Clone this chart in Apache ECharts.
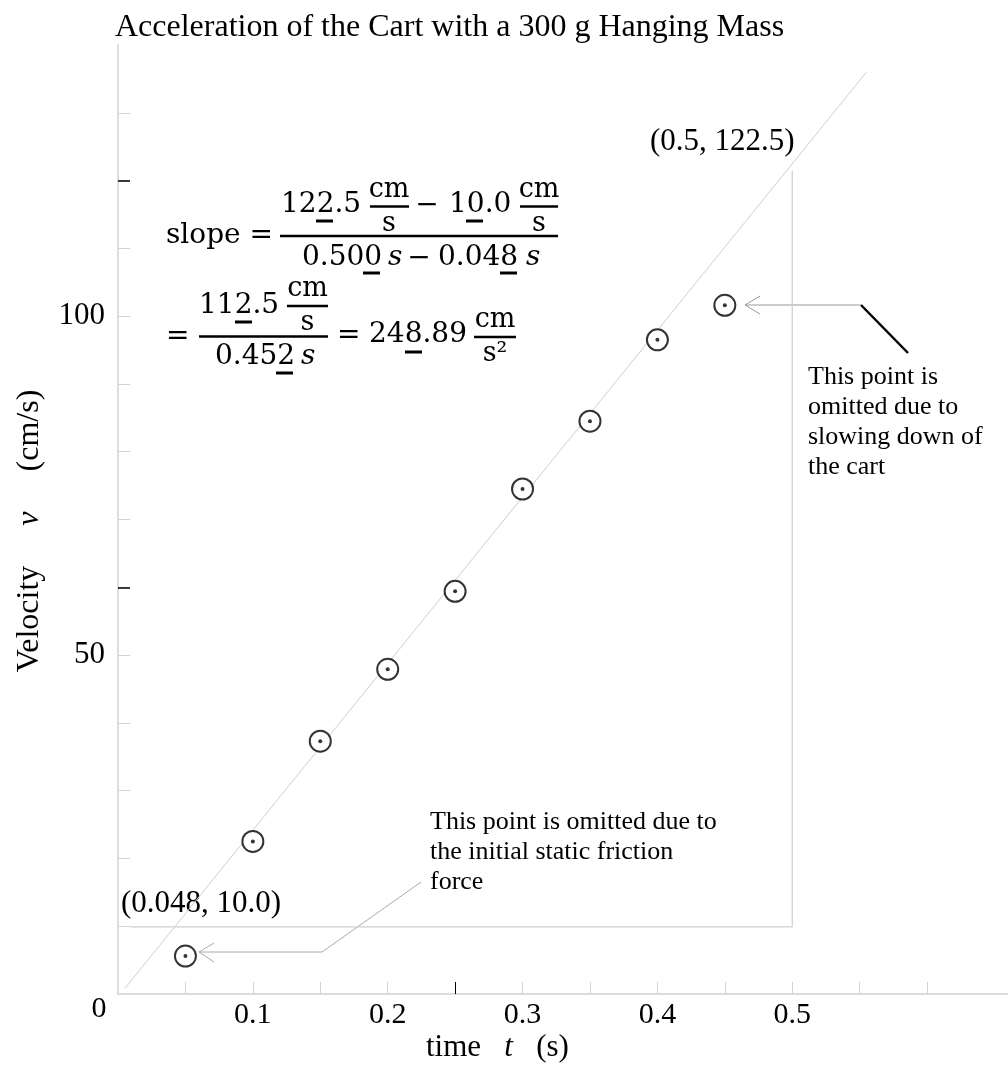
<!DOCTYPE html>
<html>
<head>
<meta charset="utf-8">
<script src="https://cdn.jsdelivr.net/npm/echarts@6/dist/echarts.min.js"></script>
<style>
html, body { margin: 0; padding: 0; background: #fff; }
#chart { width: 1008px; height: 1066px; }
</style>
</head>
<body>
<div id="chart"></div>
<script>
// measured points (time in s, velocity in cm/s)
var timeS = [0.05, 0.10, 0.15, 0.20, 0.25, 0.30, 0.35, 0.40, 0.45];
var velocity = [5.6, 22.5, 37.3, 47.9, 59.4, 74.5, 84.5, 96.5, 101.6];

// best fit line ends
var fitT = [0.005, 0.555];
var fitV = [0.8, 136.0];

// slope triangle guide: (0.048, 10.0) -> (0.5, 10.0) -> (0.5, 122.5)
var guideT = [0.009, 0.5, 0.5];
var guideV = [9.9, 9.9, 121.5];

// axis ticks / labels
var xTicks = [0.05, 0.1, 0.15, 0.2, 0.25, 0.3, 0.35, 0.4, 0.45, 0.5, 0.55, 0.6];
var xLabels = [0.1, 0.2, 0.3, 0.4, 0.5];
var yTicks = [10, 20, 30, 40, 50, 60, 70, 80, 90, 100, 110, 120, 130];
var yLabels = [50, 100];
var xMajor = [0.25];
var yMajor = [60, 120];

var SERIF = '"Liberation Serif", "Times New Roman", serif';
var MATH = '"DejaVu Serif", serif';
var GRAY = '#d2d2d2';

function pairs(a, b) {
    return a.map(function (v, i) { return [v, b[i]]; });
}

function txt(x, y, text, extra) {
    var style = {
        text: text, fill: '#000', fontFamily: MATH, fontSize: 28,
        align: 'left', verticalAlign: 'middle'
    };
    for (var k in extra) style[k] = extra[k];
    return { type: 'text', x: x, y: y, style: style };
}
function seg(x1, y1, x2, y2, color, w) {
    return { type: 'line', shape: { x1: x1, y1: y1, x2: x2, y2: y2 },
        style: { stroke: color || '#000', lineWidth: w || 2.5 } };
}
function poly(points, color, w) {
    return { type: 'polyline', shape: { points: points },
        style: { stroke: color, lineWidth: w, fill: null } };
}
// small cm/s fraction
function unitFrac(cx, barY, x1, x2, den) {
    return [
        txt(cx, barY - 17, 'cm', { fontSize: 27, align: 'center' }),
        seg(x1, barY, x2, barY),
        txt(cx, barY + 17, den || 's', { fontSize: 27, align: 'center' })
    ];
}

function formula() {
    var g = [];
    // row 1
    g.push(txt(166, 236, 'slope ='));
    g.push(seg(280, 236, 558, 236));
    g.push(txt(281, 205, '122.5'));
    g.push(seg(316, 221, 333, 221, '#000', 3));
    g = g.concat(unitFrac(389, 206.5, 370, 409));
    g.push(txt(427, 206, '\u2212', { align: 'center' }));
    g.push(txt(449, 205, '10.0'));
    g.push(seg(466, 221, 483, 221, '#000', 3));
    g = g.concat(unitFrac(539, 206.5, 520, 558));
    g.push(txt(302, 258, '0.500'));
    g.push(seg(363, 273, 380, 273, '#000', 3));
    g.push(txt(388, 258, 's', { fontStyle: 'italic' }));
    g.push(txt(419, 259, '\u2212', { align: 'center' }));
    g.push(txt(438, 258, '0.048'));
    g.push(seg(500, 273, 517, 273, '#000', 3));
    g.push(txt(526, 258, 's', { fontStyle: 'italic' }));
    // row 2
    g.push(txt(166, 337, '='));
    g.push(seg(199, 336.5, 328, 336.5));
    g.push(txt(199, 306, '112.5'));
    g.push(seg(235, 322, 252, 322, '#000', 3));
    g = g.concat(unitFrac(307.5, 306, 287, 328));
    g.push(txt(215, 357, '0.452'));
    g.push(seg(276, 373, 293, 373, '#000', 3));
    g.push(txt(301, 357, 's', { fontStyle: 'italic' }));
    g.push(txt(337, 336, '='));
    g.push(txt(369, 335, '248.89'));
    g.push(seg(405, 352, 422, 352, '#000', 3));
    g = g.concat(unitFrac(495, 337, 474, 516, 's\u00b2'));
    return g;
}

function annotations() {
    var g = [];
    // lower note
    g.push(txt(430, 852, 'This point is omitted due to\nthe initial static friction\nforce',
        { fontFamily: SERIF, fontSize: 26, lineHeight: 30 }));
    g.push(poly([[421, 882], [322, 952], [199, 952]], '#aaa', 1));
    g.push(poly([[214, 943], [199, 952], [214, 962]], '#aaa', 1));
    // upper note
    g.push(txt(808, 422, 'This point is\nomitted due to\nslowing down of\nthe cart',
        { fontFamily: SERIF, fontSize: 26, lineHeight: 30 }));
    g.push(seg(908, 353, 861, 305, '#000', 2.5));
    g.push(poly([[861, 305], [745, 305]], '#999', 1));
    g.push(poly([[760, 296], [745, 305], [760, 314]], '#999', 1));
    // point labels
    g.push(txt(650, 142, '(0.5, 122.5)', { fontFamily: SERIF, fontSize: 31 }));
    g.push(txt(121, 904, '(0.048, 10.0)', { fontFamily: SERIF, fontSize: 31 }));
    // origin label
    g.push(txt(99, 1009, '0', { fontFamily: SERIF, fontSize: 30, align: 'center' }));
    // axis names
    g.push({
        type: 'text', x: 426, y: 1048,
        style: {
            text: '{n|time}   {i|t}   {n|(s)}', fill: '#000', align: 'left', verticalAlign: 'middle',
            fontFamily: SERIF, fontSize: 31,
            rich: {
                n: { fontFamily: SERIF, fontSize: 31, fill: '#000' },
                i: { fontFamily: SERIF, fontSize: 31, fontStyle: 'italic', fill: '#000' }
            }
        }
    });
    g.push({
        type: 'text', x: 30, y: 531, rotation: Math.PI / 2,
        style: {
            text: '{n|Velocity}     {i|v}     {n|(cm/s)}', fill: '#000', align: 'center', verticalAlign: 'middle',
            fontFamily: SERIF, fontSize: 32,
            rich: {
                n: { fontFamily: SERIF, fontSize: 32, fill: '#000' },
                i: { fontFamily: SERIF, fontSize: 32, fontStyle: 'italic', fill: '#000' }
            }
        }
    });
    return g;
}

var chart = echarts.init(document.getElementById('chart'));
chart.setOption({
    animation: false,
    backgroundColor: '#fff',
    title: {
        text: 'Acceleration of the Cart with a 300 g Hanging Mass',
        left: 110, top: 7,
        textStyle: { fontFamily: SERIF, fontSize: 32, fontWeight: 'normal', color: '#000' }
    },
    grid: { left: 118, right: 0, top: 45, bottom: 72 },
    xAxis: [{
        type: 'value', min: 0, max: 0.66,
        axisLine: { show: true, lineStyle: { color: GRAY, width: 1.5 } },
        axisTick: { show: true, inside: true, length: 12, customValues: xTicks, lineStyle: { color: GRAY, width: 1 } },
        axisLabel: { customValues: xLabels, margin: 6, fontFamily: SERIF, fontSize: 30, color: '#000' },
        splitLine: { show: false }
    }, {
        type: 'value', min: 0, max: 0.66, position: 'bottom',
        axisLine: { show: false },
        axisTick: { show: true, inside: true, length: 12, customValues: xMajor, lineStyle: { color: '#000', width: 1 } },
        axisLabel: { show: false },
        splitLine: { show: false }
    }],
    yAxis: [{
        type: 'value', min: 0, max: 140,
        axisLine: { show: true, lineStyle: { color: GRAY, width: 1.5 } },
        axisTick: { show: true, inside: true, length: 12, customValues: yTicks, lineStyle: { color: GRAY, width: 1 } },
        axisLabel: { customValues: yLabels, margin: 13, fontFamily: SERIF, fontSize: 31, color: '#000' },
        splitLine: { show: false }
    }, {
        type: 'value', min: 0, max: 140, position: 'left',
        axisLine: { show: false },
        axisTick: { show: true, inside: true, length: 12, customValues: yMajor, lineStyle: { color: '#000', width: 1.5 } },
        axisLabel: { show: false },
        splitLine: { show: false }
    }],
    series: [{
        type: 'line', data: pairs(fitT, fitV), showSymbol: false, silent: true,
        lineStyle: { color: '#cfcfcf', width: 1 }, z: 1
    }, {
        type: 'line', data: pairs(guideT, guideV), showSymbol: false, silent: true,
        lineStyle: { color: '#cfcfcf', width: 1.2 }, z: 1
    }, {
        type: 'scatter', data: pairs(timeS, velocity), symbol: 'circle', symbolSize: 21,
        itemStyle: { color: '#fff', borderColor: '#000', borderWidth: 2 }, z: 3
    }, {
        type: 'scatter', data: pairs(timeS, velocity), symbol: 'circle', symbolSize: 4,
        itemStyle: { color: '#000' }, z: 4
    }],
    graphic: formula().concat(annotations())
});
</script>
</body>
</html>
